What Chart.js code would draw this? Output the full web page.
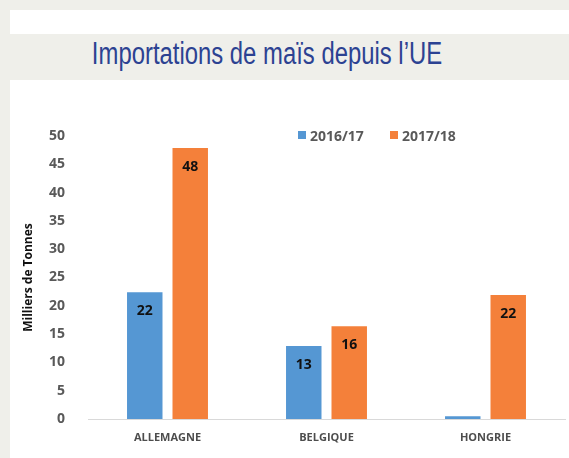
<!DOCTYPE html>
<html>
<head>
<meta charset="utf-8">
<script src="https://cdn.jsdelivr.net/npm/chart.js@4/dist/chart.umd.min.js"></script>
<style>
  html, body { margin: 0; padding: 0; }
  body { width: 569px; height: 458px; background: #EFEFEA; position: relative; overflow: hidden; }
  #panel { position: absolute; left: 10px; top: 10px; width: 559px; height: 448px; background: #fff; }
  #band { position: absolute; left: 10px; top: 34px; width: 559px; height: 46px; background: #EFEFEA; }
  #title { position: absolute; left: 0; top: 36px; width: 534px; text-align: center; white-space: nowrap;
    font-family: "Liberation Sans", Arial, sans-serif; font-size: 31px; color: #2C4292;
    transform: scaleX(0.77); transform-origin: 267px 0; }
  #chartBox { position: absolute; left: 10px; top: 80px; width: 559px; height: 378px; }
  #legend { position: absolute; top: 126px; left: 298px; font-family: "Open Sans", sans-serif; font-weight: bold;
    font-size: 14px; color: #595959; white-space: nowrap; }
  .item { position: absolute; top: 0; }
  .box { position: absolute; top: 5px; left: 0; width: 8px; height: 8px; }
  .lab { position: absolute; top: 0; left: 12px; line-height: 19px; }
</style>
</head>
<body>
<div id="panel"></div>
<div id="band"></div>
<div id="title">Importations de maïs depuis l’UE</div>
<div id="chartBox"><canvas id="chart" width="559" height="378"></canvas></div>
<div id="legend"></div>
<script>
const countries = ['ALLEMAGNE', 'BELGIQUE', 'HONGRIE'];
const seriesNames = ['2016/17', '2017/18'];
const values2016 = [22.4, 12.9, 0.5];
const values2017 = [47.9, 16.4, 21.9];
const seriesColors = ['#5597D3', '#F4803A'];
const yTicks = [0, 5, 10, 15, 20, 25, 30, 35, 40, 45, 50];

// legend as html, placed inside the plot like the original
const legend = document.getElementById('legend');
const legendOffsets = [0, 92];
seriesNames.forEach((name, i) => {
  const item = document.createElement('div');
  item.className = 'item';
  item.style.left = legendOffsets[i] + 'px';
  item.innerHTML = '<span class="box" style="background:' + seriesColors[i] + '"></span><span class="lab">' + name + '</span>';
  legend.appendChild(item);
});

// value labels drawn just inside the top of each bar
const barLabels = {
  id: 'barLabels',
  afterDatasetsDraw(chart) {
    const ctx = chart.ctx;
    ctx.save();
    ctx.font = 'bold 14px "Open Sans", sans-serif';
    ctx.fillStyle = '#111';
    ctx.textAlign = 'center';
    ctx.textBaseline = 'middle';
    chart.data.datasets.forEach((ds, i) => {
      chart.getDatasetMeta(i).data.forEach((bar, j) => {
        const v = ds.data[j];
        if (v < 1) return;
        ctx.fillText(Math.round(v), bar.x, bar.y + 19);
      });
    });
    ctx.restore();
  }
};

new Chart(document.getElementById('chart').getContext('2d'), {
  type: 'bar',
  data: {
    labels: countries,
    datasets: [
      { label: seriesNames[0], data: values2016, backgroundColor: seriesColors[0] },
      { label: seriesNames[1], data: values2017, backgroundColor: seriesColors[1] }
    ]
  },
  options: {
    responsive: false,
    animation: false,
    categoryPercentage: 0.572,
    barPercentage: 0.78,
    layout: { padding: { top: 56, right: 4, left: 0, bottom: 0 } },
    plugins: {
      legend: { display: false },
      tooltip: { enabled: false }
    },
    scales: {
      x: {
        grid: { display: false },
        border: { display: true, color: '#D9D9D9', width: 1 },
        ticks: {
          padding: 4,
          color: '#4D4D4D',
          font: { family: 'Open Sans', size: 11, weight: 'bold' }
        },
        afterFit(scale) { scale.height = 39; }
      },
      y: {
        min: 0,
        max: 50,
        grid: { display: false },
        border: { display: false },
        afterBuildTicks(scale) { scale.ticks = yTicks.map(v => ({ value: v })); },
        ticks: {
          padding: 15,
          color: '#595959',
          font: { family: 'Open Sans', size: 14, weight: 'bold' }
        },
        title: {
          display: true,
          text: 'Milliers de Tonnes',
          color: '#111',
          padding: { top: 11, bottom: 0 },
          font: { family: 'Open Sans', size: 12, weight: 'bold' }
        },
        afterFit(scale) { scale.width = 78; }
      }
    }
  },
  plugins: [barLabels]
});
</script>
</body>
</html>
